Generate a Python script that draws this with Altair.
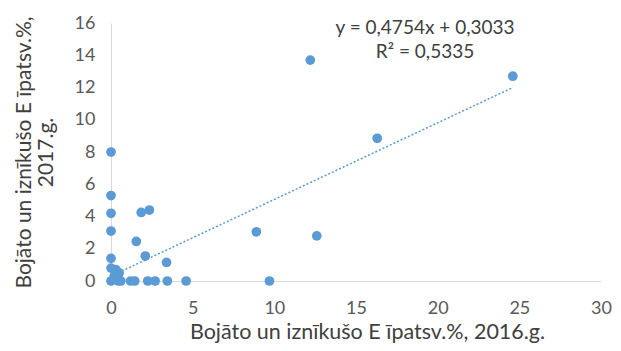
import altair as alt
import pandas as pd

# data
x2016 = [0, 0, 0, 0, 0, 0, 0.3, 0.5, 0.2, 0, 0.3, 0.45, 0.6,
         1.2, 1.45, 2.25, 2.7, 3.45, 4.6, 9.7,
         1.55, 1.85, 2.35, 2.1, 3.4, 8.9, 12.2, 12.6, 16.3, 24.6]
y2017 = [8.0, 5.3, 4.2, 3.1, 1.4, 0.8, 0.7, 0.5, 0.3, 0, 0.2, 0, 0,
         0, 0, 0, 0, 0, 0, 0,
         2.45, 4.25, 4.4, 1.55, 1.15, 3.05, 13.7, 2.8, 8.85, 12.7]
slope = 0.4754
intercept = 0.3033
eq_lines = ["y = 0,4754x + 0,3033", "R² = 0,5335"]

df = pd.DataFrame({"x": x2016, "y": y2017})
tx = [min(x2016), max(x2016)]
trend = pd.DataFrame({"x": tx, "y": [slope * v + intercept for v in tx]})

FONT = "Lato"
GREY = "#595959"
BLUE = "#5B9BD5"

xs = alt.Scale(domain=[0, 30], nice=False, zero=True)
ys = alt.Scale(domain=[0, 16], nice=False, zero=True)

xax = alt.Axis(values=[0, 5, 10, 15, 20, 25, 30], grid=False, ticks=False,
               domainColor="#D9D9D9", labelColor=GREY, labelFont=FONT,
               labelFontSize=18, labelPadding=18, labelFlush=False,
               title="Bojāto un iznīkušo E īpatsv.%, 2016.g.",
               titleFont=FONT, titleFontSize=21.5, titleFontWeight="normal",
               titleColor="#404040", titleX=256, titleY=57,
               titleBaseline="alphabetic", titleAlign="center")
yax = alt.Axis(values=list(range(0, 17, 2)), grid=False, ticks=False,
               domainColor="#D9D9D9", labelColor=GREY, labelFont=FONT,
               labelFontSize=18, labelPadding=16, labelFlush=False,
               title=["Bojāto un iznīkušo E īpatsv.%,", "2017.g."],
               titleFont=FONT, titleFontSize=21, titleFontWeight="normal",
               titleColor="#404040", titlePadding=18, titleLineHeight=22)

pts = alt.Chart(df).mark_circle(size=95, color=BLUE, opacity=1).encode(
    x=alt.X("x:Q", scale=xs, axis=xax),
    y=alt.Y("y:Q", scale=ys, axis=yax),
)

line = alt.Chart(trend).mark_line(color=BLUE, strokeDash=[2, 2], strokeWidth=1.5).encode(
    x=alt.X("x:Q", scale=xs, axis=xax), y=alt.Y("y:Q", scale=ys, axis=yax)
)

texts = []
for i, t in enumerate(eq_lines):
    texts.append(
        alt.Chart(pd.DataFrame({"t": [t]})).mark_text(
            font=FONT, fontSize=19, color="#404040", align="center", baseline="middle"
        ).encode(x=alt.value(314), y=alt.value(5 + 24 * i), text="t:N")
    )

chart = alt.layer(line, pts, *texts).properties(
    width=490, height=258,
    autosize=alt.AutoSizeParams(type="none"),
    padding={"left": 103, "top": 15, "right": 12, "bottom": 62},
).configure_view(stroke=None)

chart.save("out.html", embed_options={"renderer": "svg", "actions": False})
